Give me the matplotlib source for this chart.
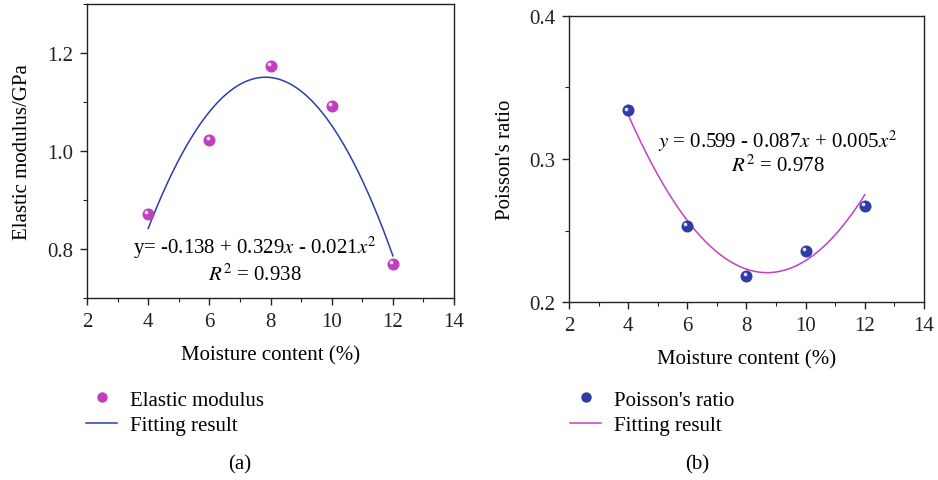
import numpy as np
import matplotlib
matplotlib.use("Agg")
import matplotlib.pyplot as plt
from matplotlib.lines import Line2D
from matplotlib.ticker import MultipleLocator, FormatStrFormatter
from matplotlib.transforms import offset_copy

plt.rcParams["font.family"] = ["Liberation Serif", "DejaVu Serif"]
plt.rcParams["mathtext.fontset"] = "stix"

# === data ===
moisture = [4, 6, 8, 10, 12]
elastic_modulus = [0.871, 1.022, 1.173, 1.092, 0.769]
poisson_ratio = [0.334, 0.253, 0.218, 0.236, 0.267]

# quadratic fit coefficients (c0, c1, c2) as printed on the chart
fit_a = [-0.138, 0.329, -0.021]
fit_b = [0.599, -0.087, 0.005]

magenta = "#c23fc4"
blue = "#2e3ca6"
line_blue = "#2b3fa3"
line_pink = "#c43fc4"
FS = 15

fig = plt.figure(figsize=(9.38, 4.81), dpi=100)
ax1 = fig.add_axes([0.0928, 0.3784, 0.3913, 0.6112])
ax2 = fig.add_axes([0.6066, 0.370, 0.3784, 0.5947])


def style_axes(ax):
    for s in ax.spines.values():
        s.set_linewidth(1.0)
        s.set_color("#222222")
    ax.tick_params(which="both", direction="out", top=False, right=False,
                   labelsize=FS, colors="#222222", pad=5)
    ax.tick_params(which="major", length=5, width=1)
    ax.tick_params(which="minor", length=3, width=0.8)
    ax.set_xlim(2, 14)
    ax.xaxis.set_major_locator(MultipleLocator(2))
    ax.xaxis.set_minor_locator(MultipleLocator(1))


def sphere(ax, x, y, color):
    ax.scatter(x, y, s=75, color=color, zorder=3, linewidths=0)
    hl = offset_copy(ax.transData, fig=fig, x=-1.3, y=1.3, units="points")
    ax.scatter(x, y, s=7, color="white", alpha=0.85, zorder=4,
               linewidths=0, transform=hl)


xx = np.linspace(4, 12, 200)

# --- (a) elastic modulus ---
style_axes(ax1)
ax1.set_ylim(0.7, 1.3)
ax1.yaxis.set_major_locator(MultipleLocator(0.2))
ax1.yaxis.set_minor_locator(MultipleLocator(0.1))
ax1.yaxis.set_major_formatter(FormatStrFormatter("%.1f"))
ax1.plot(xx, fit_a[0] + fit_a[1] * xx + fit_a[2] * xx**2, color=line_blue, lw=1.1, zorder=2)
sphere(ax1, moisture, elastic_modulus, magenta)
ax1.set_xlabel("Moisture content (%)", fontsize=FS)
ax1.set_ylabel("Elastic modulus/GPa", fontsize=FS)
ax1.xaxis.set_label_coords(0.5, -0.16)
ax1.yaxis.set_label_coords(-0.15, 0.5)
ax1.text(0.458, 0.173, r"y= -0.138 + 0.329$x$ - 0.021$x^2$", transform=ax1.transAxes,
         ha="center", va="center", fontsize=FS)
ax1.text(0.458, 0.082, r"$R^2$ = 0.938", transform=ax1.transAxes,
         ha="center", va="center", fontsize=FS)

# --- (b) poisson's ratio ---
style_axes(ax2)
ax2.set_ylim(0.2, 0.4)
ax2.yaxis.set_major_locator(MultipleLocator(0.1))
ax2.yaxis.set_minor_locator(MultipleLocator(0.05))
ax2.yaxis.set_major_formatter(FormatStrFormatter("%.1f"))
ax2.plot(xx, fit_b[0] + fit_b[1] * xx + fit_b[2] * xx**2, color=line_pink, lw=1.1, zorder=2)
sphere(ax2, moisture, poisson_ratio, blue)
ax2.set_xlabel("Moisture content (%)", fontsize=FS)
ax2.set_ylabel("Poisson's ratio", fontsize=FS)
ax2.xaxis.set_label_coords(0.5, -0.164)
ax2.yaxis.set_label_coords(-0.152, 0.5)
ax2.text(0.589, 0.564, r"$y$ = 0.599 - 0.087$x$ + 0.005$x^2$", transform=ax2.transAxes,
         ha="center", va="center", fontsize=FS)
ax2.text(0.589, 0.48, r"$R^2$ = 0.978", transform=ax2.transAxes,
         ha="center", va="center", fontsize=FS)

# --- legends ---
for x0, color, lcolor, label in [(0.0917, magenta, line_blue, "Elastic modulus"),
                                 (0.6077, blue, line_pink, "Poisson's ratio")]:
    fig.legend(handles=[Line2D([], [], ls="none", marker="o", markersize=7.5,
                               markerfacecolor=color, markeredgewidth=0),
                        Line2D([], [], color=lcolor, lw=1.1)],
               labels=[label, "Fitting result"],
               loc="upper left", bbox_to_anchor=(x0, 0.187), frameon=False,
               fontsize=FS, handlelength=1.5, handletextpad=0.62,
               labelspacing=0.3, borderpad=0, borderaxespad=0)

fig.text(240 / 938, 1 - 465 / 481, "(a)", ha="center", va="center", fontsize=FS)
fig.text(697 / 938, 1 - 465 / 481, "(b)", ha="center", va="center", fontsize=FS)

fig.savefig("out.png", dpi=100)
